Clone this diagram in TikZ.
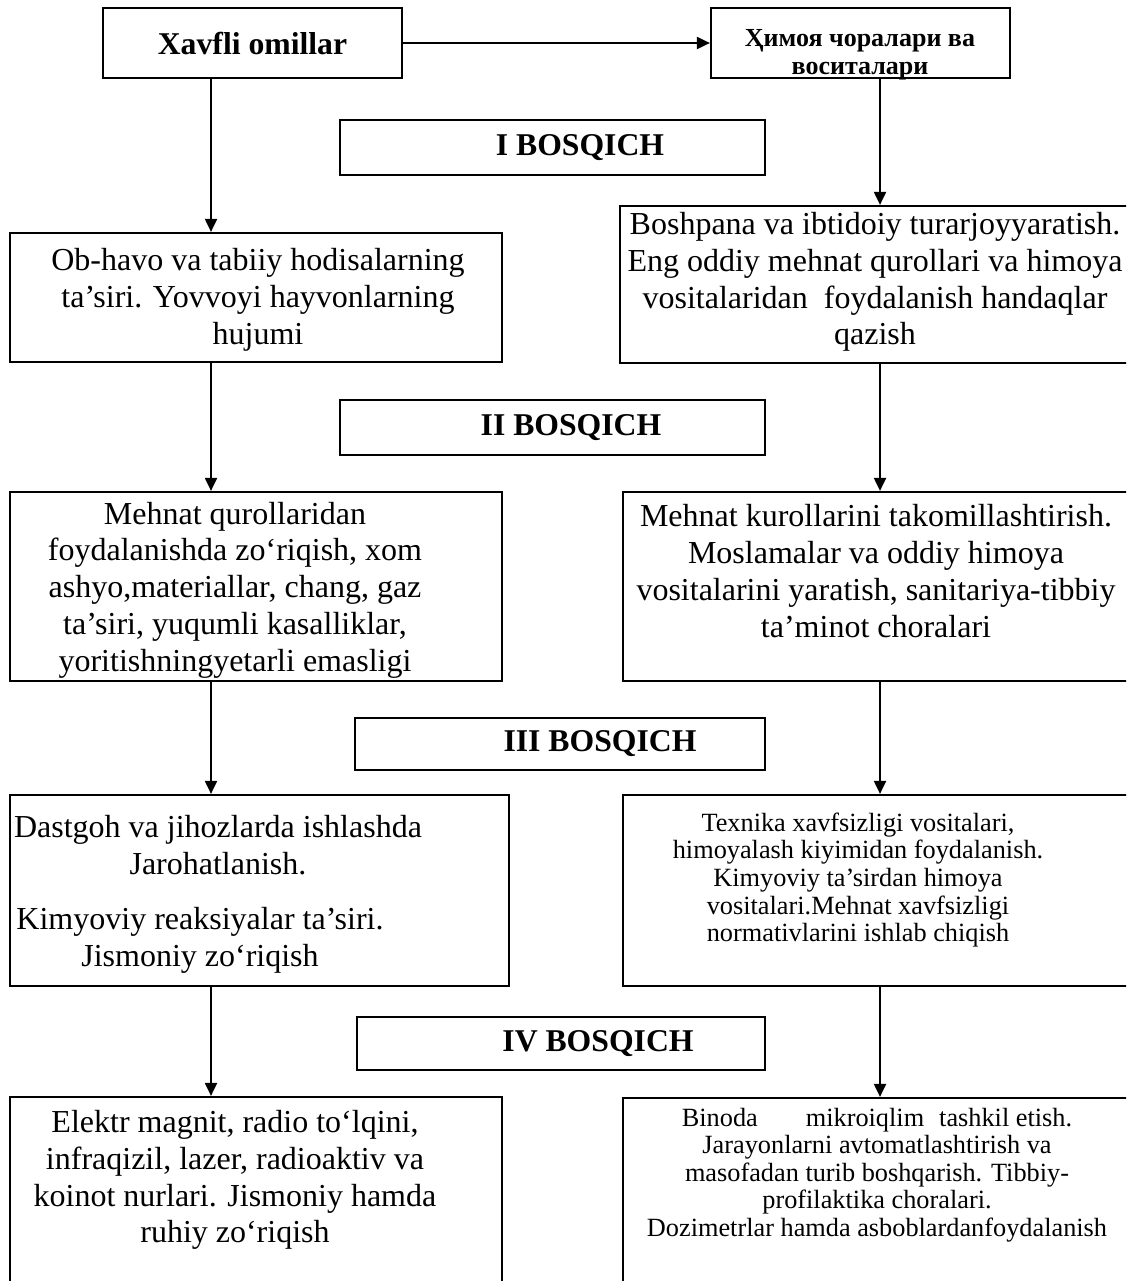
\documentclass[tikz,border=0pt]{standalone}
\usepackage{fontspec}
\setmainfont{Liberation Serif}
\usetikzlibrary{arrows.meta,calc}

\begin{document}
\begin{tikzpicture}[x=1pt,y=-1pt,
        frame/.style={draw,line width=2.2pt,inner sep=0pt},
        stage/.style={draw,line width=2.6pt,inner sep=0pt},
        body/.style={align=center,inner sep=0pt,font=\fontsize{32}{36.7}\selectfont},
        small/.style={align=center,inner sep=0pt,font=\fontsize{26.3}{27.6}\selectfont},
        head/.style={align=center,inner sep=0pt,font=\bfseries\fontsize{31.7}{34}\selectfont},
        link/.style={line width=2pt,-{Triangle[length=13pt,width=12pt]}}]
        \useasboundingbox (0,0) rectangle (1126,1281);
        \clip (0,0) rectangle (1126,1281);
        \coordinate (colL) at (211,0);
        \coordinate (colR) at (880,0);
        \node[frame,head,minimum width=299pt,minimum height=70pt] (haz0) at (252.5,43) {Xavfli omillar};
        \node[frame,minimum width=299pt,minimum height=70pt] (pro0) at (860.5,43) {};
        \node[align=center,inner sep=0pt,font=\bfseries\fontsize{26}{28.5}\selectfont] (pro0t) at (860,55) {Ҳимоя чоралари ва\\воситалари};
        \foreach \n/\x/\y/\w/\h/\tx/\lab in {1/552.5/147.5/425/55/580/I,
                2/552.5/427.5/425/55/571/II,
                3/560/744/410/52/600/III,
                4/561/1043.5/408/53/598/IV} {
            \node[stage,minimum width=\w pt,minimum height=\h pt] (st\n) at (\x,\y) {};
            \node[head] (st\n t) at (\tx,\y) {\lab\ BOSQICH};
        }
        \node[frame,minimum width=492pt,minimum height=129pt] (haz1) at (256,297.5) {};
        \node[frame,minimum width=510pt,minimum height=157pt] (pro1) at (875,284.5) {};
        \node[frame,minimum width=492pt,minimum height=189pt] (haz2) at (256,586.5) {};
        \node[frame,minimum width=507pt,minimum height=189pt] (pro2) at (876.5,586.5) {};
        \node[frame,minimum width=499pt,minimum height=191pt] (haz3) at (259.5,890.5) {};
        \node[frame,minimum width=507pt,minimum height=191pt] (pro3) at (876.5,890.5) {};
        \node[frame,minimum width=492pt,minimum height=210pt] (haz4) at (256,1202) {};
        \node[frame,minimum width=507pt,minimum height=210pt] (pro4) at (876.5,1203) {};
        \node[body] (haz1t) at (258,300) {Ob-havo va tabiiy hodisalarning\\ta’siri. Yovvoyi hayvonlarning\\hujumi};
        \node[body] (pro1t) at (875,282) {Boshpana va ibtidoiy turarjoyyaratish.\\Eng oddiy mehnat qurollari va himoya\\vositalaridan\ \ foydalanish handaqlar\\qazish};
        \node[body] (haz2t) at (235,590) {Mehnat qurollaridan\\foydalanishda zo‘riqish, xom\\ashyo,materiallar, chang, gaz\\ta’siri, yuqumli kasalliklar,\\yoritishningyetarli emasligi};
        \node[body] (pro2t) at (876,571) {Mehnat kurollarini takomillashtirish.\\Moslamalar va oddiy himoya\\vositalarini yaratish, sanitariya-tibbiy\\ta’minot choralari};
        \node[body] (haz3t) at (218,845) {Dastgoh va jihozlarda ishlashda\\Jarohatlanish.};
        \node[body] (haz3u) at (200,940) {Kimyoviy reaksiyalar ta’siri.\\Jismoniy zo‘riqish};
        \node[small] (pro3t) at (858,880) {Texnika xavfsizligi vositalari,\\himoyalash kiyimidan foydalanish.\\Kimyoviy ta’sirdan himoya\\vositalari.Mehnat xavfsizligi\\normativlarini ishlab chiqish};
        \node[body] (haz4t) at (235,1180) {Elektr magnit, radio to‘lqini,\\infraqizil, lazer, radioaktiv va\\koinot nurlari. Jismoniy hamda\\ruhiy zo‘riqish};
        \node[small] (pro4t) at (877,1175) {Binoda\hspace{48pt}mikroiqlim\hspace{15pt}tashkil etish.\\Jarayonlarni avtomatlashtirish va\\masofadan turib boshqarish. Tibbiy-\\profilaktika choralari.\\Dozimetrlar hamda asboblardanfoydalanish};
        \draw[link] (haz0) -- (pro0);
        \draw[link] (haz0.south -| colL) -- (haz1.north -| colL);
        \draw[link] (pro0.south -| colR) -- (pro1.north -| colR);
        \foreach \a/\b in {1/2,2/3,3/4} {
            \draw[link] (haz\a.south -| colL) -- (haz\b.north -| colL);
            \draw[link] (pro\a.south -| colR) -- (pro\b.north -| colR);
        }
\end{tikzpicture}
\end{document}
